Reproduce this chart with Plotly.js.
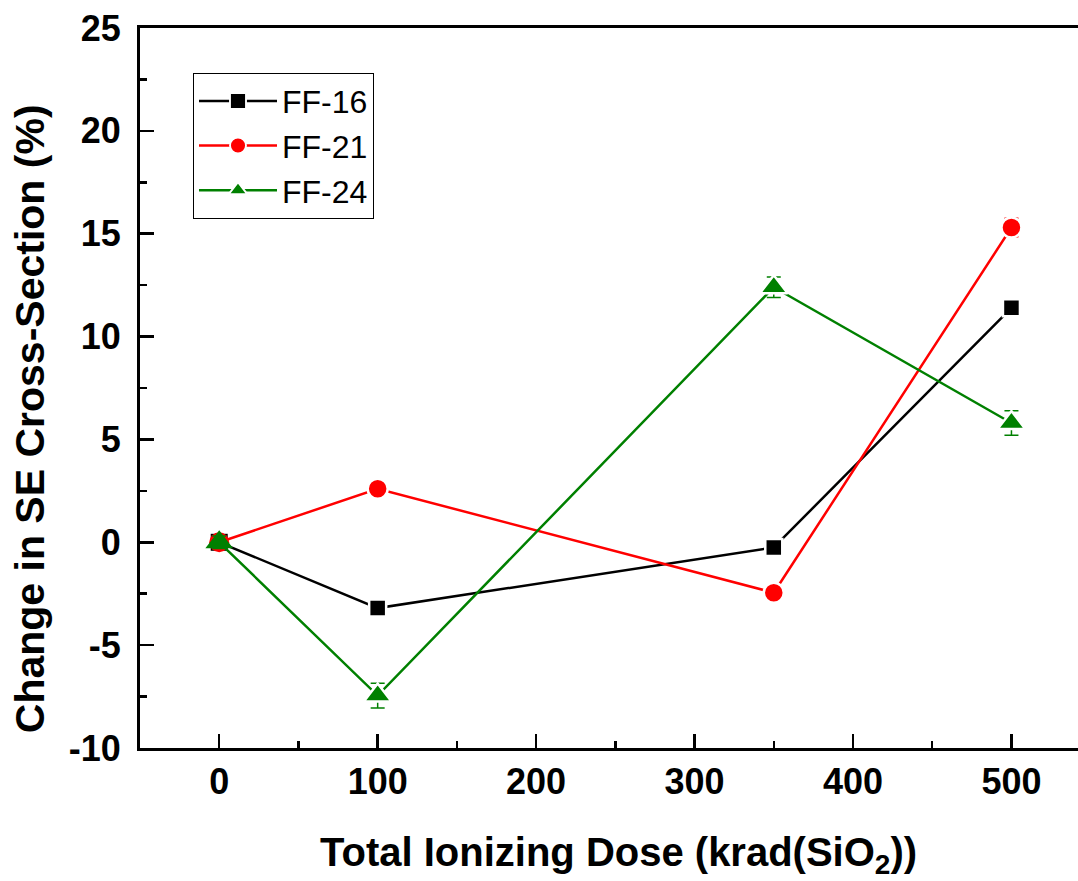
<!DOCTYPE html>
<html>
<head>
<meta charset="utf-8">
<script src="https://cdn.plot.ly/plotly-3.0.1.min.js"></script>
<style>
  html, body { margin: 0; padding: 0; background: #fff; }
  #chart { width: 1078px; height: 881px; }
</style>
</head>
<body>
<div id="chart"></div>
<script>
// Total ionizing dose, krad(SiO2)
const dose = [0, 100, 350, 500];

// Change in SE cross-section (%) per flip-flop design
const ff16 = [0, -3.2, -0.25, 11.4];
const ff21 = [0, 2.6, -2.45, 15.3];
const ff24 = [0, -7.45, 12.4, 5.8];

// Error bar half-widths (%)
const ff16Err = [0.2, 0.2, 0.2, 0.2];
const ff21Err = [0.2, 0.2, 0.2, 0.45];
const ff24Err = [0.3, 0.6, 0.5, 0.6];

const xTicks = [0, 100, 200, 300, 400, 500];
const yTicks = [-10, -5, 0, 5, 10, 15, 20, 25];

const xTitle = 'Total Ionizing Dose (krad(SiO<sub>2</sub>))';
const yTitle = 'Change in SE Cross-Section (%)';

const FONT = 'Liberation Sans, Arial, sans-serif';

// white marker outline leaves a small gap where the line meets the symbol
function series(name, y, err, color, symbol, size) {
  return {
    x: dose, y: y, name: name, type: 'scatter', mode: 'lines+markers',
    line: { color: color, width: 2.5 },
    marker: { color: color, symbol: symbol, size: size,
              line: { color: '#fff', width: [0, 2.5, 2.5, 2.5] } },
    error_y: { type: 'data', array: err, visible: true, color: color, thickness: 1.5, width: 7 }
  };
}

const traces = [
  series('FF-16', ff16, ff16Err, '#000000', 'square', 17),
  series('FF-21', ff21, ff21Err, '#ff0000', 'circle', 20),
  series('FF-24', ff24, ff24Err, '#008000', 'triangle-up', 24)
];

const layout = {
  width: 1078, height: 881,
  margin: { l: 140, r: 0, t: 28, b: 133 },
  paper_bgcolor: '#fff', plot_bgcolor: '#fff',
  showlegend: true,
  legend: {
    x: 0.0565, y: 0.938, xanchor: 'left', yanchor: 'top',
    bgcolor: '#fff', bordercolor: '#000', borderwidth: 1,
    font: { family: FONT, size: 32, color: '#000' },
    itemwidth: 78, tracegroupgap: 0
  },
  xaxis: {
    range: [-50, 542], tickvals: xTicks, ticktext: xTicks.map(String),
    ticks: 'inside', ticklen: 14, tickwidth: 2.5, tickcolor: '#000',
    minor: { dtick: 50, ticks: 'inside', ticklen: 7, tickwidth: 2.5, tickcolor: '#000' },
    showline: true, linecolor: '#000', linewidth: 3, mirror: true,
    showgrid: false, zeroline: false,
    tickfont: { family: FONT, size: 36, color: '#000', weight: 'bold' },
    ticklabelstandoff: 0
  },
  yaxis: {
    range: [-10, 25], tickvals: yTicks, ticktext: yTicks.map(String),
    ticks: 'inside', ticklen: 14, tickwidth: 2.5, tickcolor: '#000',
    minor: { dtick: 2.5, ticks: 'inside', ticklen: 7, tickwidth: 2.5, tickcolor: '#000' },
    showline: true, linecolor: '#000', linewidth: 3,
    showgrid: false, zeroline: false,
    tickfont: { family: FONT, size: 36, color: '#000', weight: 'bold' },
    ticklabelstandoff: 9
  },
  annotations: [
    { text: xTitle, xref: 'paper', yref: 'paper', x: 0.51, y: -0.149,
      xanchor: 'center', yanchor: 'middle', showarrow: false,
      font: { family: FONT, size: 40, color: '#000', weight: 'bold' } },
    { text: yTitle, xref: 'paper', yref: 'paper', x: -0.117, y: 0.457,
      xanchor: 'center', yanchor: 'middle', showarrow: false, textangle: -90,
      font: { family: FONT, size: 41, color: '#000', weight: 'bold' } }
  ]
};

Plotly.newPlot('chart', traces, layout, { displayModeBar: false, staticPlot: true });
</script>
</body>
</html>
